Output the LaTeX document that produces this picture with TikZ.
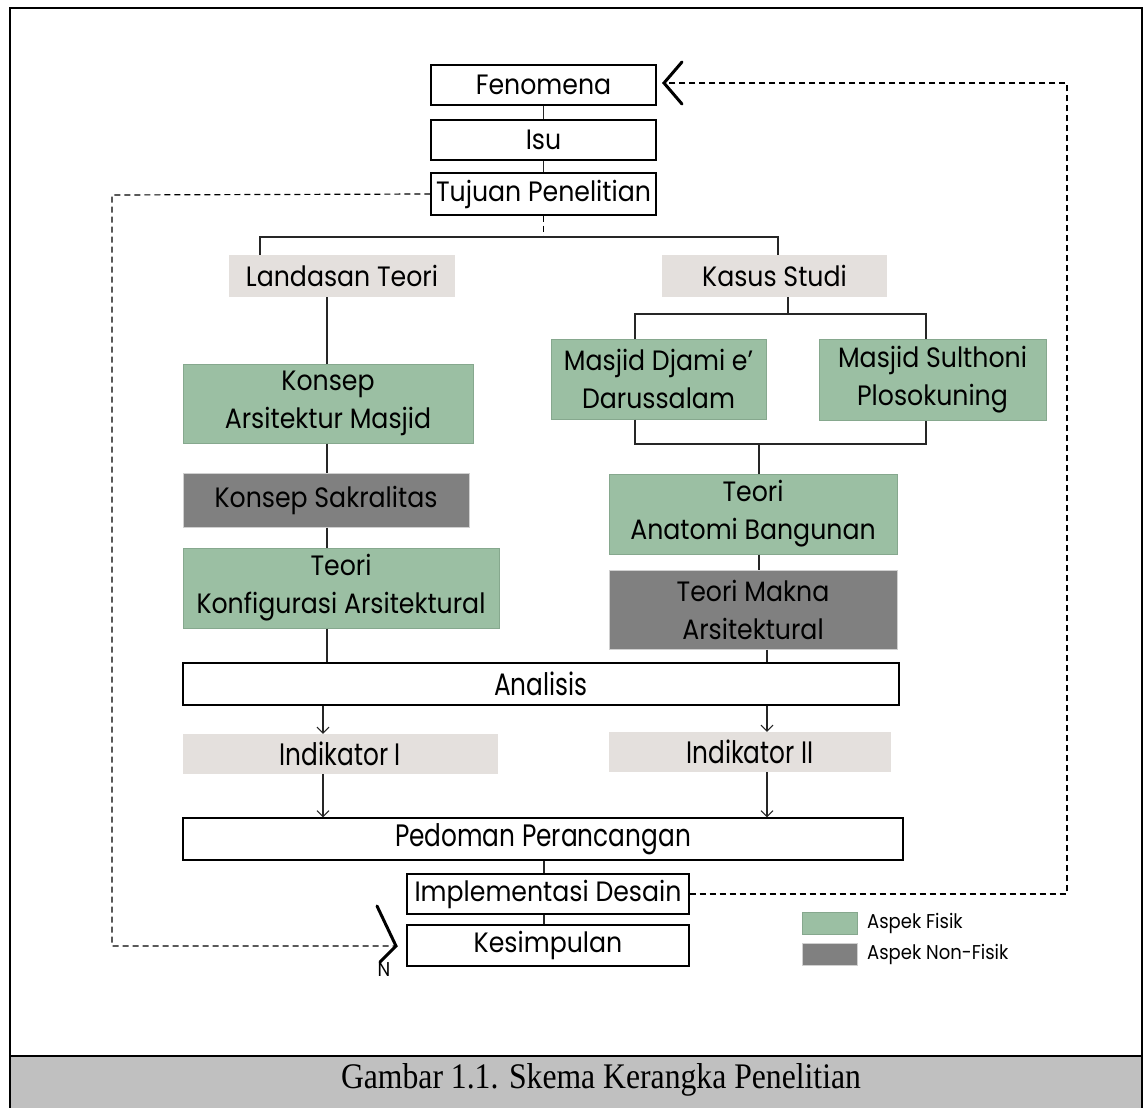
\documentclass[tikz,border=0pt]{standalone}
\usepackage{fontspec}
\setmainfont[FakeStretch=0.9]{Poppins}
\newfontfamily\condfont[FakeStretch=0.8]{Poppins}
\newfontfamily\capfont[FakeStretch=0.88]{Liberation Serif}
\usetikzlibrary{arrows.meta}
\definecolor{lgray}{HTML}{E4E0DD}
\definecolor{fgreen}{HTML}{9BBFA3}
\definecolor{fgreenedge}{HTML}{86A88E}
\definecolor{dgray}{HTML}{808080}
\definecolor{dgrayedge}{HTML}{D0D0D0}
\definecolor{capgray}{HTML}{C0C0C0}
\tikzset{
  base/.style={inner sep=0pt, align=center, font=\fontsize{28}{38}\selectfont},
  wbox/.style={base, draw=black, line width=1.3pt, fill=white},
  lbox/.style={base, fill=lgray},
  gbox/.style={base, fill=fgreen, draw=fgreenedge, line width=1pt},
  dbox/.style={base, fill=dgray, draw=dgrayedge, line width=1pt},
  cond/.style={font=\condfont\fontsize{31}{38}\selectfont},
  lnk/.style={line width=1.2pt, draw=black!85},
  arr/.style={lnk, -{Straight Barb[length=6pt,width=12pt,line width=1pt]}},
  dsh/.style={line width=1.2pt, dash pattern=on 6pt off 4pt},
}
\begin{document}
\begin{tikzpicture}[x=1pt,y=-1pt]
\useasboundingbox (0,0) rectangle (1144,1108);
% frame and caption band
\fill[capgray] (10,1056) rectangle (1142,1108);
\draw[line width=2.2pt] (10,1108) -- (10,8) -- (1142,8) -- (1142,1108);
\draw[line width=2.2pt] (10,1056) -- (1142,1056);
\node[font=\capfont\fontsize{36}{38}\selectfont] (cap) at (601,1080) {Gambar 1.1. Skema Kerangka Penelitian};

% nodes
\node[wbox, minimum width=225, minimum height=40] (fen) at (543.5,85) {Fenomena};
\node[wbox, minimum width=225, minimum height=40] (isu) at (543.5,140) {Isu};
\node[wbox, minimum width=225, minimum height=42] (tuj) at (543.5,194) {Tujuan Penelitian};
\node[lbox, minimum width=226, minimum height=42] (land) at (342,276) {Landasan Teori};
\node[lbox, minimum width=225, minimum height=42] (kas) at (774.5,276) {Kasus Studi};
\node[gbox, minimum width=290, minimum height=79] (konsA) at (328,403.5) {Konsep\\Arsitektur Masjid};
\node[dbox, minimum width=286, minimum height=54] (sakral) at (326,500) {Konsep Sakralitas};
\node[gbox, minimum width=316, minimum height=80] (konf) at (341,588) {Teori\\Konfigurasi Arsitektural};
\node[gbox, minimum width=215, minimum height=80] (djami) at (658.5,379) {Masjid Djami e'\\Darussalam};
\node[gbox, minimum width=227, minimum height=81] (sulth) at (932.5,379.5) {Masjid Sulthoni\\Plosokuning};
\node[gbox, minimum width=288, minimum height=80] (anat) at (753,514) {Teori\\Anatomi Bangunan};
\node[dbox, minimum width=288, minimum height=79] (makna) at (753,609.5) {Teori Makna\\Arsitektural};
\node[wbox, cond, minimum width=716, minimum height=42] (anl) at (541,684) {Analisis};
\node[lbox, cond, minimum width=315, minimum height=40] (ind1) at (340.5,754) {Indikator I};
\node[lbox, cond, minimum width=282, minimum height=40] (ind2) at (750,752) {Indikator II};
\node[wbox, cond, minimum width=720, minimum height=42] (ped) at (543,839) {Pedoman Perancangan};
\node[wbox, minimum width=282, minimum height=40] (impl) at (548,894) {Implementasi Desain};
\node[wbox, minimum width=282, minimum height=41] (kes) at (548,945.5) {Kesimpulan};

% legend
\node[gbox, minimum width=55, minimum height=22] (lgf) at (829.5,923) {};
\node[dbox, minimum width=55, minimum height=22] (lgn) at (829.5,954) {};
\node[base, anchor=west, font=\fontsize{20}{22}\selectfont] (lgft) at (867,923) {Aspek Fisik};
\node[base, anchor=west, font=\fontsize{20}{22}\selectfont] (lgnt) at (867,954) {Aspek Non-Fisik};

% top chain
\draw[lnk] (fen.south) -- (isu.north);
\draw[lnk] (isu.south) -- (tuj.north);
\coordinate (brm) at (543.5,237);
\coordinate (brl) at (260,237);
\coordinate (brr) at (778,237);
\draw[dsh] (tuj.south) -- (brm);
\draw[lnk] (brl |- land.north) -- (brl) -- (brr) -- (brr |- kas.north);

% left column
\coordinate (lx) at (327,0);
\draw[lnk] (lx |- land.south) -- (lx |- konsA.north);
\draw[lnk] (lx |- konsA.south) -- (lx |- sakral.north);
\draw[lnk] (lx |- sakral.south) -- (lx |- konf.north);
\draw[lnk] (lx |- konf.south) -- (lx |- anl.north);

% right column
\coordinate (kx) at (788,314);
\coordinate (kl) at (635,314);
\coordinate (kr) at (926,314);
\draw[lnk] (kx |- kas.south) -- (kx);
\draw[lnk] (kl |- djami.north) -- (kl) -- (kr) -- (kr |- sulth.north);
\coordinate (jl) at (635,444);
\coordinate (jr) at (926,444);
\coordinate (jm) at (759,444);
\draw[lnk] (jl |- djami.south) -- (jl) -- (jr) -- (jr |- sulth.south);
\draw[lnk] (jm) -- (jm |- anat.north);
\draw[lnk] (jm |- anat.south) -- (jm |- makna.north);
\coordinate (mx) at (767,0);
\draw[lnk] (mx |- makna.south) -- (mx |- anl.north);

% arrows to indicators and guidelines
\coordinate (ax) at (323,0);
\draw[arr] (ax |- anl.south) -- (ax |- ind1.north);
\draw[arr] (mx |- anl.south) -- (mx |- ind2.north);
\draw[arr] (ax |- ind1.south) -- (ax |- ped.north);
\draw[arr] (mx |- ind2.south) -- (mx |- ped.north);

% bottom chain
\coordinate (bx) at (544,0);
\draw[lnk] (bx |- ped.south) -- (bx |- impl.north);
\draw[lnk] (bx |- impl.south) -- (bx |- kes.north);

% feedback dashed loops
\coordinate (rt) at (1067,83);
\coordinate (rb) at (1067,894);
\coordinate (fenT) at (664,83);
\draw[dsh] (impl.east) -- (rb) -- (rt) -- (fenT);
\draw[line width=3pt, line cap=round] (682,62) -- (fenT) -- (682,104);
\coordinate (lt) at (112,195);
\coordinate (lb) at (112,946);
\coordinate (kesT) at (396,946);
\draw[dsh] (tuj.west) -- (lt) -- (lb) -- (kesT);
\draw[line width=3pt, line cap=round] (377,906) -- (kesT) -- (380,962);
\node[base, font=\fontsize{20}{22}\selectfont] (nn) at (384,970) {N};
\end{tikzpicture}
\end{document}
